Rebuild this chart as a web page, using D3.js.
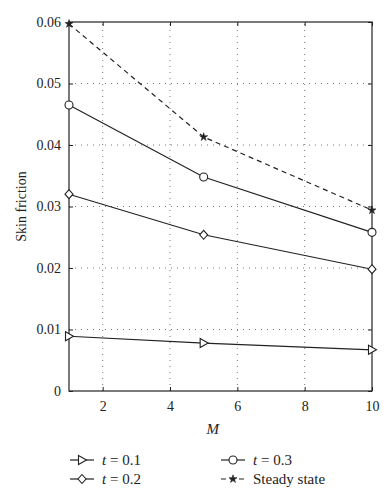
<!DOCTYPE html>
<html>
<head>
<meta charset="utf-8">
<script src="https://cdn.jsdelivr.net/npm/d3@7"></script>
<style>
  body { margin: 0; background: #fff; }
  svg text { font-family: "Liberation Serif", "DejaVu Serif", serif; fill: #222; }
</style>
</head>
<body>
<div id="chart"></div>
<script>
// data
var mValues = [1, 5, 10]
var t01 = [0.0089, 0.0078, 0.0067]
var t02 = [0.0320, 0.0254, 0.0198]
var t03 = [0.0465, 0.0348, 0.0258]
var steady = [0.0597, 0.0413, 0.0294]
var xTicks = [2, 4, 6, 8, 10]
var yTicks = [0, 0.01, 0.02, 0.03, 0.04, 0.05, 0.06]

var series = [
  { name: "t01", label: "0.1", values: t01, marker: "tri", dash: null },
  { name: "t02", label: "0.2", values: t02, marker: "diamond", dash: null },
  { name: "t03", label: "0.3", values: t03, marker: "circle", dash: null },
  { name: "steady", label: "Steady state", values: steady, marker: "star", dash: "5,4" }
]

const width = 390, height = 500
const margin = { top: 22, left: 69, right: 18, bottom: 109 }

const svg = d3.select('#chart').append('svg')
  .attr('width', width)
  .attr('height', height)

const x = d3.scaleLinear().domain([1, 10]).range([margin.left, width - margin.right])
const y = d3.scaleLinear().domain([0, 0.06]).range([height - margin.bottom, margin.top])

const x0 = x.range()[0], x1 = x.range()[1]
const y0 = y.range()[0], y1 = y.range()[1]

// grid (dotted)
svg.append('g').selectAll('line').data(xTicks.filter(d => d < 10))
  .join('line')
  .attr('x1', d => x(d)).attr('x2', d => x(d))
  .attr('y1', y0).attr('y2', y1)
  .attr('stroke', '#555').attr('stroke-width', 0.8).attr('stroke-dasharray', '1,5')
svg.append('g').selectAll('line').data(yTicks.filter(d => d > 0 && d < 0.06))
  .join('line')
  .attr('x1', x0).attr('x2', x1)
  .attr('y1', d => y(d)).attr('y2', d => y(d))
  .attr('stroke', '#555').attr('stroke-width', 0.8).attr('stroke-dasharray', '1,5')

// box
svg.append('rect')
  .attr('x', x0).attr('y', y1)
  .attr('width', x1 - x0).attr('height', y0 - y1)
  .attr('fill', 'none').attr('stroke', '#222').attr('stroke-width', 1.2)

// axes with inward ticks
const xAxis = d3.axisBottom(x).tickValues(xTicks).tickSize(-4).tickPadding(10).tickFormat(d3.format('d'))
const gx = svg.append('g').attr('transform', `translate(0,${y0})`).call(xAxis)
const gxTop = svg.append('g').attr('transform', `translate(0,${y1})`)
  .call(d3.axisTop(x).tickValues(xTicks).tickSize(-4).tickFormat(''))
const yAxis = d3.axisLeft(y).tickValues(yTicks).tickSize(-4).tickPadding(8)
  .tickFormat(d => d === 0 ? '0' : d3.format('.2f')(d))
const gy = svg.append('g').attr('transform', `translate(${x0},0)`).call(yAxis)
const gyRight = svg.append('g').attr('transform', `translate(${x1},0)`)
  .call(d3.axisRight(y).tickValues(yTicks).tickSize(-4).tickFormat(''))

;[gx, gxTop, gy, gyRight].forEach(g => {
  g.select('.domain').remove()
  g.selectAll('.tick line').attr('stroke', '#222')
  g.selectAll('text').attr('font-size', 14).attr('font-family', '"Liberation Serif", serif').attr('fill', '#222')
})

// axis titles
svg.append('text')
  .attr('x', x(5.5) - 14).attr('y', 434)
  .attr('font-size', 15).attr('font-style', 'italic')
  .text('M')
svg.append('text')
  .attr('transform', `translate(26,${(y0 + y1) / 2}) rotate(-90)`)
  .attr('text-anchor', 'middle')
  .attr('font-size', 14)
  .text('Skin friction')

// markers
function drawMarker(g, type, cx, cy) {
  if (type === 'tri') {
    g.append('path')
      .attr('d', `M${cx - 3.5} ${cy - 4.5} L${cx + 4.5} ${cy} L${cx - 3.5} ${cy + 4.5} Z`)
      .attr('fill', '#fff').attr('stroke', '#222').attr('stroke-width', 1.1)
  } else if (type === 'diamond') {
    g.append('path')
      .attr('d', `M${cx} ${cy - 4.5} L${cx + 4} ${cy} L${cx} ${cy + 4.5} L${cx - 4} ${cy} Z`)
      .attr('fill', '#fff').attr('stroke', '#222').attr('stroke-width', 1.1)
  } else if (type === 'circle') {
    g.append('circle').attr('cx', cx).attr('cy', cy).attr('r', 4)
      .attr('fill', '#fff').attr('stroke', '#222').attr('stroke-width', 1.1)
  } else if (type === 'star') {
    g.append('path')
      .attr('d', d3.symbol(d3.symbolStar, 20)())
      .attr('transform', `translate(${cx},${cy})`)
      .attr('fill', '#222').attr('stroke', '#222').attr('stroke-width', 0.6)
  }
}

const line = d3.line().x((d, i) => x(mValues[i])).y(d => y(d))

series.forEach(s => {
  svg.append('path')
    .attr('d', line(s.values))
    .attr('fill', 'none')
    .attr('stroke', '#222')
    .attr('stroke-width', 1.2)
    .attr('stroke-dasharray', s.dash)
  const g = svg.append('g')
  s.values.forEach((v, i) => drawMarker(g, s.marker, x(mValues[i]), y(v)))
})

// legend
const legendPos = [
  { lx: 70, ly: 460 },
  { lx: 70, ly: 479 },
  { lx: 221, ly: 460 },
  { lx: 221, ly: 479 }
]
series.forEach((s, i) => {
  const p = legendPos[i]
  const g = svg.append('g')
  g.append('line')
    .attr('x1', p.lx).attr('x2', p.lx + 24)
    .attr('y1', p.ly).attr('y2', p.ly)
    .attr('stroke', '#222').attr('stroke-width', 1.2)
    .attr('stroke-dasharray', s.dash)
  drawMarker(g, s.marker, p.lx + 12, p.ly)
  const t = g.append('text')
    .attr('x', p.lx + 32).attr('y', p.ly + 5)
    .attr('font-size', 15)
  if (s.name === 'steady') {
    t.text(s.label)
  } else {
    t.append('tspan').attr('font-style', 'italic').text('t')
    t.append('tspan').text(' = ' + s.label)
  }
})
</script>
</body>
</html>
